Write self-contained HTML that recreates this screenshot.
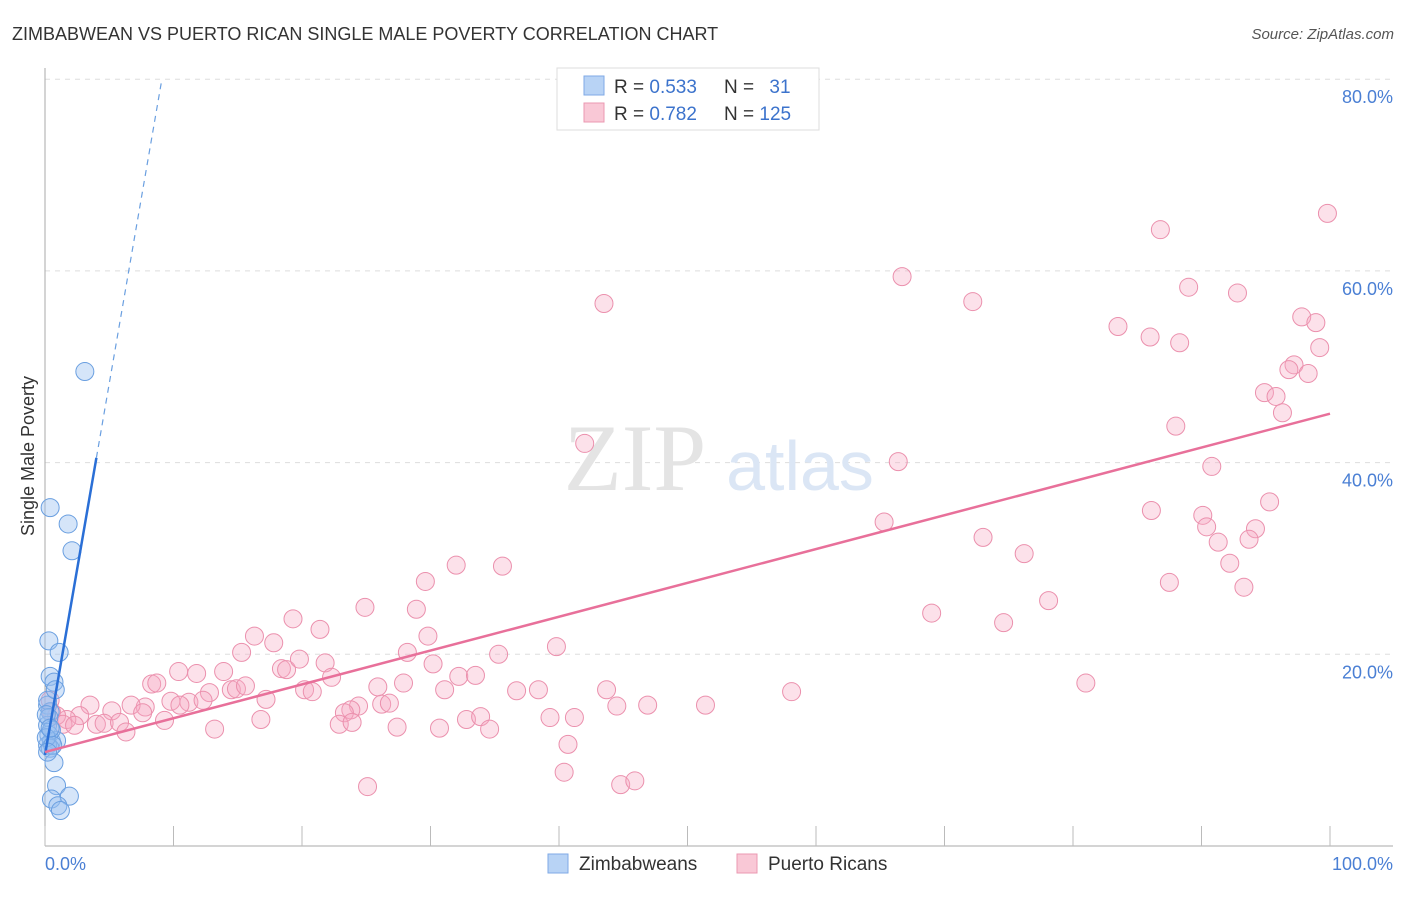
<!DOCTYPE html>
<html><head><meta charset="utf-8"><style>
body{margin:0;background:#fff;font-family:"Liberation Sans",sans-serif;}
svg text{font-family:"Liberation Sans",sans-serif;}
</style></head><body>
<svg id="chart" width="1406" height="892" viewBox="0 0 1406 892">
<text x="12" y="40" font-size="18" fill="#333">ZIMBABWEAN VS PUERTO RICAN SINGLE MALE POVERTY CORRELATION CHART</text>
<text x="1394" y="39" font-size="15" fill="#555" font-style="italic" text-anchor="end">Source: ZipAtlas.com</text>
<g id="grid"></g>
<g>
<text x="635" y="490" font-size="95" fill="#e4e4e4" font-family="Liberation Serif" text-anchor="middle" style="font-family:'Liberation Serif',serif">ZIP</text>
<text x="800" y="490" font-size="70" fill="#dbe6f5" text-anchor="middle">atlas</text>
</g>
<g id="axes"></g>
<g id="pink"></g>
<g id="blue"></g>
<g id="lines"></g>
<text x="34" y="456" font-size="18" fill="#333" text-anchor="middle" transform="rotate(-90 34 456)">Single Male Poverty</text>
<g>
<rect x="557" y="68" width="262" height="62" fill="#fff" stroke="#ddd"/>
<rect x="584" y="76" width="20" height="19" fill="#b8d3f5" stroke="#7fa9e6"/>
<rect x="584" y="103" width="20" height="19" fill="#f9c8d6" stroke="#eb98b1"/>
<text x="614" y="93" font-size="19" fill="#333">R = <tspan fill="#3c73cc">0.533</tspan></text>
<text x="724" y="93" font-size="19" fill="#333">N = <tspan fill="#3c73cc" dx="10">31</tspan></text>
<text x="614" y="120" font-size="19" fill="#333">R = <tspan fill="#3c73cc">0.782</tspan></text>
<text x="724" y="120" font-size="19" fill="#333">N = <tspan fill="#3c73cc">125</tspan></text>
</g>
<g>
<rect x="548" y="854" width="20" height="19" fill="#b8d3f5" stroke="#7fa9e6"/>
<text x="579" y="870" font-size="19" fill="#333">Zimbabweans</text>
<rect x="737" y="854" width="20" height="19" fill="#f9c8d6" stroke="#eb98b1"/>
<text x="768" y="870" font-size="19" fill="#333">Puerto Ricans</text>
</g>
</svg>
<script>
const yTicks=[20,40,60,80];
const yTickLabels=["20.0%","40.0%","60.0%","80.0%"];
const xTicks=[0,10,20,30,40,50,60,70,80,90,100];
const blueX=[3.1,0.4,1.8,2.1,0.3,1.1,0.4,0.7,0.2,0.4,0.2,0.3,0.5,0.9,0.2,0.4,0.7,0.9,0.5,1.9,1.0,1.2,0.2,0.3,0.5,0.1,0.6,0.2,0.8,0.1,0.4];
const blueY=[49.5,35.3,33.6,30.8,21.4,20.2,17.7,17.1,14.7,14.0,12.6,11.6,10.9,11.0,10.5,10.2,8.7,6.3,4.9,5.2,4.2,3.7,15.2,13.4,12.1,11.3,10.5,9.8,16.3,13.7,12.3];
const pinkX=[99.8,86.8,66.7,43.5,72.2,89.0,92.8,83.5,86.0,88.3,97.8,98.9,99.2,97.2,96.8,98.3,94.9,95.8,96.3,88.0,42.0,66.4,90.8,95.3,86.1,65.3,90.1,90.4,91.3,94.2,93.7,73.0,76.2,92.2,32.0,35.6,29.6,87.5,93.3,78.1,24.9,28.9,69.0,19.3,74.6,21.4,29.8,16.3,17.8,39.8,28.2,35.3,15.3,21.8,30.2,18.4,18.8,10.4,11.8,13.9,19.8,22.3,81.0,8.3,8.7,27.9,25.9,31.1,32.2,33.5,36.7,38.4,43.7,58.1,12.8,14.5,14.9,20.2,20.8,15.6,17.2,9.8,11.2,12.3,10.5,3.5,7.8,6.7,5.2,7.6,24.4,26.2,26.8,44.5,46.9,51.4,23.8,23.3,32.8,33.9,39.3,41.2,9.3,16.8,2.7,1.7,0.9,1.4,2.3,4.0,4.6,5.8,6.3,13.2,22.9,23.9,27.4,30.7,34.6,40.7,40.4,25.1,44.8,45.9,0.4,0.5];
const pinkY=[66.0,64.3,59.4,56.6,56.8,58.3,57.7,54.2,53.1,52.5,55.2,54.6,52.0,50.2,49.7,49.3,47.3,46.9,45.2,43.8,42.0,40.1,39.6,35.9,35.0,33.8,34.5,33.3,31.7,33.1,32.0,32.2,30.5,29.5,29.3,29.2,27.6,27.5,27.0,25.6,24.9,24.7,24.3,23.7,23.3,22.6,21.9,21.9,21.2,20.8,20.2,20.0,20.2,19.1,19.0,18.5,18.4,18.2,18.0,18.2,19.5,17.6,17.0,16.9,17.0,17.0,16.6,16.3,17.7,17.8,16.2,16.3,16.3,16.1,16.0,16.3,16.4,16.3,16.1,16.7,15.3,15.1,15.0,15.2,14.7,14.7,14.5,14.7,14.1,13.9,14.6,14.8,14.9,14.6,14.7,14.7,14.2,13.9,13.2,13.5,13.4,13.4,13.1,13.2,13.6,13.2,13.6,12.7,12.6,12.7,12.8,12.9,11.9,12.2,12.7,12.9,12.4,12.3,12.2,10.6,7.7,6.2,6.4,6.8,15.2,14.0];
const blueTrend=[9.5,40.5];   // y at x=0 and x=4
const blueTrendX=[0,4,9.1];
const pinkTrend=[9.8,45.1];   // y at x=0 and x=100

const NS="http://www.w3.org/2000/svg";
const X0=45,X1=1330,Y0=846,YPX=9.585;
const sx=v=>X0+(X1-X0)*v/100;
const sy=v=>Y0-v*YPX;
function mk(tag,attrs,parent){const e=document.createElementNS(NS,tag);for(const k in attrs)e.setAttribute(k,attrs[k]);parent.appendChild(e);return e;}
const grid=document.getElementById('grid'),axes=document.getElementById('axes');
yTicks.forEach((t,i)=>{
  const l=mk('line',{x1:45,x2:1393,y1:sy(t),y2:sy(t),stroke:'#ddd','stroke-dasharray':'5,5'},grid);
  
  
  const tx=mk('text',{x:1393,y:sy(t)+24,'font-size':18,fill:'#4a7fd4','text-anchor':'end'},axes);
  tx.textContent=yTickLabels[i];
  
  
});
const ya=mk('line',{x1:45,x2:45,y1:68,y2:846,stroke:'#aaa'},axes);


const xa=mk('line',{x1:45,x2:1393,y1:846,y2:846,stroke:'#aaa'},axes);


xTicks.forEach(t=>{
  const l=mk('line',{x1:sx(t),x2:sx(t),y1:826,y2:846,stroke:'#bbb'},axes);
  
  
});
const xl0=mk('text',{x:45,y:870,'font-size':18,fill:'#4a7fd4'},axes);xl0.textContent='0.0%';


const xl1=mk('text',{x:1393,y:870,'font-size':18,fill:'#4a7fd4','text-anchor':'end'},axes);xl1.textContent='100.0%';



const pg=document.getElementById('pink');
pinkX.forEach((v,i)=>{
  const c=mk('circle',{cx:sx(v),cy:sy(pinkY[i]),r:9,fill:'rgba(246,170,195,0.35)',stroke:'#eb90ad','stroke-width':1},pg);
  
  
});
const bg=document.getElementById('blue');
blueX.forEach((v,i)=>{
  const c=mk('circle',{cx:sx(v),cy:sy(blueY[i]),r:9,fill:'rgba(150,190,240,0.4)',stroke:'#6a9fe0','stroke-width':1},bg);
  
  
});
const lg=document.getElementById('lines');
const slope=(blueTrend[1]-blueTrend[0])/(blueTrendX[1]-blueTrendX[0]);
const bl=mk('line',{x1:sx(0),y1:sy(blueTrend[0]),x2:sx(blueTrendX[1]),y2:sy(blueTrend[1]),stroke:'#2a6fd6','stroke-width':2.5},lg);


const bd=mk('line',{x1:sx(blueTrendX[1]),y1:sy(blueTrend[1]),x2:sx(blueTrendX[2]),y2:sy(blueTrend[0]+slope*blueTrendX[2]),stroke:'#6a9fe0','stroke-width':1.2,'stroke-dasharray':'6,5'},lg);


const pl=mk('line',{x1:sx(0),y1:sy(pinkTrend[0]),x2:sx(100),y2:sy(pinkTrend[1]),stroke:'#e8709a','stroke-width':2.5},lg);


</script>
</body></html>
